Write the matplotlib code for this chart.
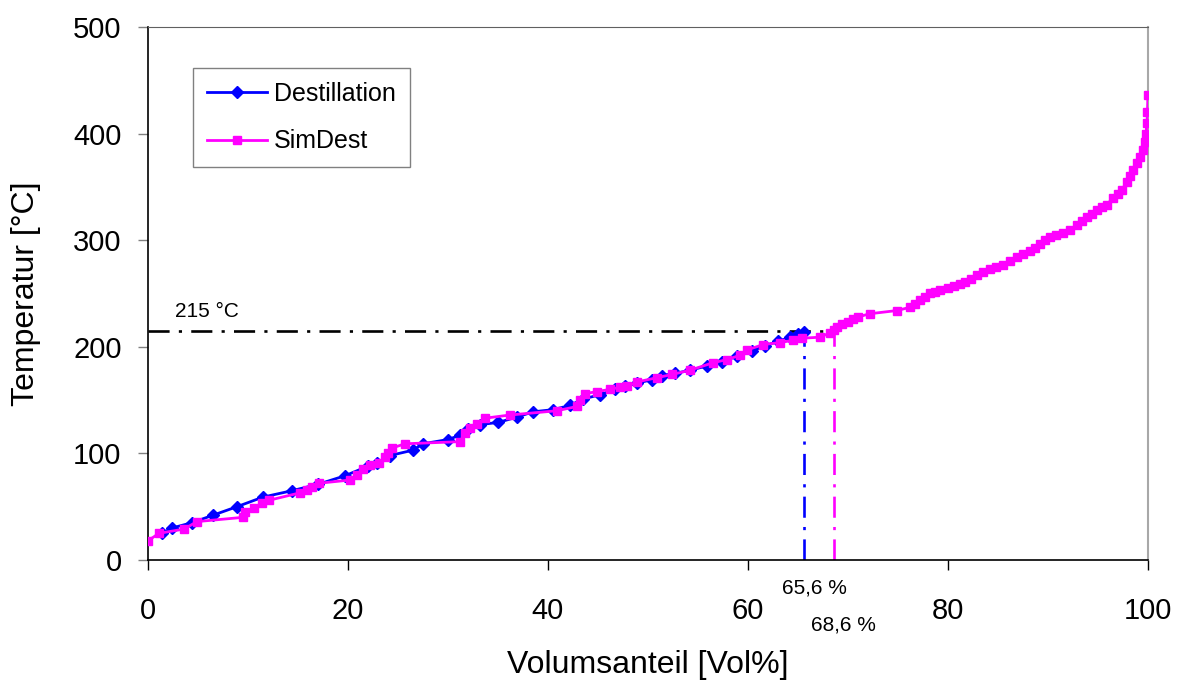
import matplotlib

matplotlib.use("Agg")
import matplotlib.pyplot as plt

plt.rcParams["font.family"] = ["Liberation Sans", "DejaVu Sans"]

# ---------------------------------------------------------------------------
# Data: boiling curves, volume fraction [Vol%] vs temperature [°C]
# ---------------------------------------------------------------------------
dest_x = [1.4, 2.4, 4.4, 6.5, 8.9, 11.5, 14.4, 17.0, 19.7, 22.0, 22.9, 24.2,
          26.5, 27.5, 30.0, 31.2, 32.0, 33.2, 35.0, 36.9, 38.5, 40.5, 42.2,
          43.5, 45.2, 46.7, 47.7, 48.9, 50.4, 51.4, 52.7, 54.2, 55.9, 57.4,
          58.9, 60.4, 61.7, 63.0, 64.2, 65.0, 65.6]
dest_y = [25, 30, 35, 42, 50, 59, 65, 71, 79, 88, 91, 98,
          103, 109, 113, 117, 123, 127, 129, 134, 139, 141, 145,
          151, 155, 160, 163, 166, 169, 173, 175, 178, 182, 186,
          191, 196, 201, 205, 209, 212, 214]

sim_x = [0.0, 1.1, 3.6, 4.9, 9.5, 9.7, 10.6, 11.4, 12.1, 15.2, 15.9, 16.4,
         17.1, 20.2, 20.9, 21.5, 22.2, 23.1, 23.7, 24.0, 24.4, 25.7, 31.2,
         31.7, 32.2, 32.9, 33.7, 36.2, 40.9, 42.9, 43.2, 43.7, 44.9, 46.2,
         47.2, 47.9, 48.9, 50.9, 52.4, 54.2, 56.5, 57.9, 59.2, 59.9, 61.5,
         63.2, 64.5, 65.4, 67.2, 68.2, 68.6, 68.9, 69.4, 70.0, 70.5, 71.0,
         72.2, 74.9, 76.2, 76.7, 77.2, 77.7, 78.2, 78.7, 79.2, 80.0, 80.6,
         81.2, 81.7, 82.3, 82.9, 83.5, 84.2, 84.8, 85.5, 86.2, 86.9, 87.5,
         88.2, 88.7, 89.2, 89.7, 90.2, 90.8, 91.5, 92.2, 92.9, 93.4, 93.9,
         94.4, 94.9, 95.4, 95.9, 96.5, 97.0, 97.4, 97.9, 98.2, 98.5, 98.9,
         99.2, 99.5, 99.7, 99.8, 99.9, 99.95, 100.0]
sim_y = [18, 25, 29, 36, 40, 45, 49, 53, 56, 63, 66, 68,
         72, 75, 80, 85, 89, 91, 97, 100, 105, 109, 111,
         119, 124, 128, 133, 136, 140, 144, 150, 156, 158, 160,
         162, 163, 167, 171, 174, 178, 185, 188, 192, 197, 202,
         204, 206, 208, 209, 213, 216, 219, 221, 223, 226, 228,
         231, 234, 237, 240, 244, 247, 250, 251, 253, 255, 257,
         259, 261, 264, 267, 270, 273, 275, 277, 280, 284, 287,
         290, 293, 296, 300, 303, 305, 307, 310, 314, 318, 322,
         325, 328, 331, 333, 340, 343, 347, 355, 360, 366, 372,
         378, 385, 392, 400, 410, 420, 436]

# cut temperature and the volume fractions reached at it
t_cut = 215
v_dest = 65.6
v_sim = 68.6

# ---------------------------------------------------------------------------
# Figure
# ---------------------------------------------------------------------------
fig = plt.figure(figsize=(11.81, 6.81), dpi=100)
ax = fig.add_axes([0.1253, 0.1777, 0.8467, 0.7827])

dashdot = (0, (8, 3.5, 1.2, 3.5))
ax.plot([0, v_sim], [t_cut, t_cut], color="black", lw=1.9, linestyle=dashdot,
        zorder=2)
ax.plot([v_dest, v_dest], [0, t_cut], color="#0000ff", lw=1.9,
        linestyle=dashdot, zorder=2)
ax.plot([v_sim, v_sim], [0, t_cut], color="#ff00ff", lw=1.9,
        linestyle=dashdot, zorder=2)

ax.plot(dest_x, dest_y, color="#0000ff", lw=2.0, marker="D", markersize=6,
        label="Destillation", zorder=3)
ax.plot(sim_x, sim_y, color="#ff00ff", lw=2.0, marker="s", markersize=6,
        label="SimDest", zorder=4)

ax.text(2.7, 233, f"{t_cut} °C", fontsize=15, ha="left", va="center")
ax.text(66.6, -26, "65,6 %", fontsize=15, ha="center", va="center",
        clip_on=False)
ax.text(69.5, -61, "68,6 %", fontsize=15, ha="center", va="center",
        clip_on=False)

ax.set_xlim(0, 100)
ax.set_ylim(0, 500)
ax.set_xticks(range(0, 101, 20))
ax.set_yticks(range(0, 501, 100))
ax.tick_params(axis="both", labelsize=21, direction="out", length=7, width=1)
ax.tick_params(axis="y", color="#808080", pad=12)
ax.tick_params(axis="x", pad=20)

ax.set_xlabel("Volumsanteil [Vol%]", fontsize=23)
ax.set_ylabel("Temperatur [°C]", fontsize=23)
ax.xaxis.set_label_coords(0.5, -0.168)
ax.yaxis.set_label_coords(-0.107, 0.5)

ax.spines["left"].set_linewidth(1.2)
ax.spines["bottom"].set_linewidth(1.2)
ax.spines["top"].set_color("#606060")
ax.spines["right"].set_color("#a8a8a8")
ax.spines["right"].set_linewidth(1.5)

leg = ax.legend(loc="upper left", bbox_to_anchor=(0.045, 0.923), fontsize=18,
                frameon=True, fancybox=False, handlelength=2.4,
                handletextpad=0.3, borderpad=0.55, labelspacing=0.94,
                borderaxespad=0)
leg.get_frame().set_edgecolor("#606060")
leg.get_frame().set_linewidth(1.0)

fig.savefig("out.png", dpi=100)
